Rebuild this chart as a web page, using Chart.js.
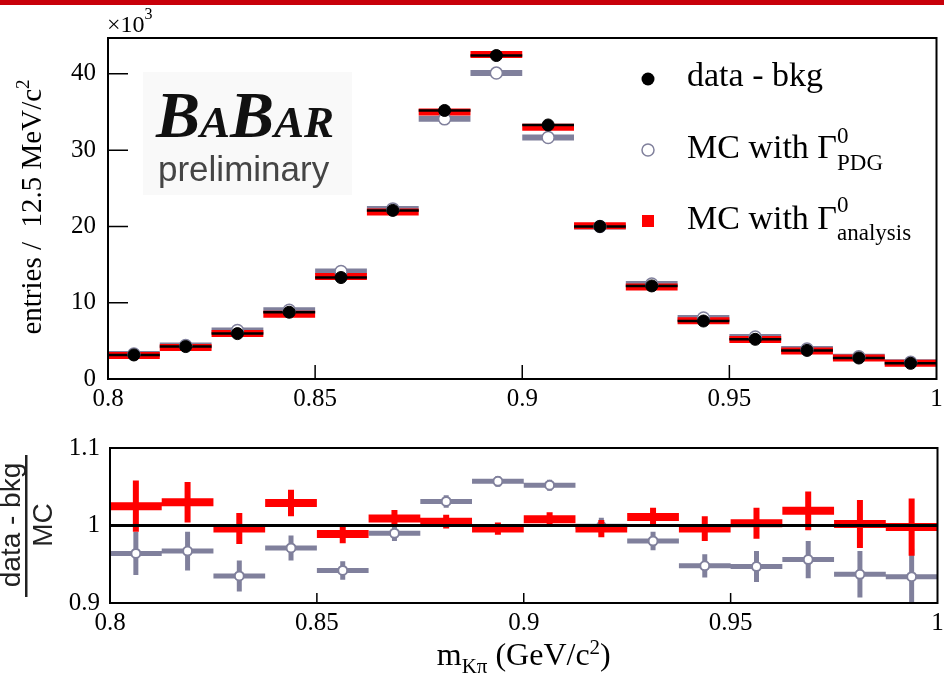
<!DOCTYPE html>
<html>
<head>
<meta charset="utf-8">
<script src="https://cdn.jsdelivr.net/npm/chart.js@4.4.1/dist/chart.umd.min.js"></script>
<style>
  body { margin: 0; background: #fff; }
  #wrap { position: relative; width: 944px; height: 682px; overflow: hidden; background: #fff; }
  #stripe { position: absolute; left: 0; top: 0; width: 944px; height: 5px; background: #c8000a; }
  canvas { position: absolute; left: 0; }
</style>
</head>
<body>
<div id="wrap">
  <canvas id="topChart" width="944" height="412" style="top:0"></canvas>
  <canvas id="ratioChart" width="944" height="270" style="top:412px"></canvas>
  <div id="stripe"></div>
</div>
<script>
// bins of m(K pi), 12.5 MeV wide
const binCenters = [0.80625, 0.81875, 0.83125, 0.84375, 0.85625, 0.86875, 0.88125, 0.89375,
                    0.90625, 0.91875, 0.93125, 0.94375, 0.95625, 0.96875, 0.98125, 0.99375];
const binWidth = 0.0125;

// entries x10^3
const dataBkg    = [3.15, 4.25, 5.95, 8.75, 13.3, 22.1, 35.2, 42.4, 33.3, 20.0, 12.2, 7.6, 5.2, 3.75, 2.75, 2.05];
const mcAnalysis = [3.07, 4.13, 5.97, 8.50, 13.45, 21.9, 35.0, 42.55, 33.0, 20.1, 12.05, 7.63, 5.18, 3.68, 2.74, 2.05];
const mcPdg      = [3.27, 4.40, 6.36, 9.01, 14.1, 22.3, 34.1, 40.1, 31.65, 20.0, 12.45, 8.0, 5.5, 3.92, 2.93, 2.2];

// (data - bkg) / MC
const ratioAnalysis = [1.025, 1.030, 0.996, 1.029, 0.989, 1.009, 1.005, 0.996, 1.008, 0.996, 1.011, 0.996, 1.003, 1.019, 1.002, 0.998];
const errAnalysis   = [0.033, 0.026, 0.020, 0.017, 0.012, 0.011, 0.009, 0.008, 0.009, 0.011, 0.012, 0.016, 0.020, 0.025, 0.031, 0.037];
const ratioPdg      = [0.964, 0.967, 0.935, 0.971, 0.942, 0.990, 1.031, 1.057, 1.052, 0.999, 0.980, 0.948, 0.947, 0.956, 0.937, 0.934];
const errPdg        = [0.028, 0.025, 0.020, 0.016, 0.012, 0.010, 0.008, 0.007, 0.007, 0.011, 0.012, 0.015, 0.020, 0.024, 0.030, 0.036];

const xTicks = [0.8, 0.85, 0.9, 0.95, 1];
const yTicksTop = [0, 10, 20, 30, 40];
const yTicksRatio = [0.9, 1, 1.1];

const RED = '#ff0000';
const GRAY = '#80809c';
const SERIF = '"Liberation Serif", "Times New Roman", serif';
const SANS = '"Liberation Sans", Arial, sans-serif';

Chart.defaults.font.family = SERIF;
Chart.defaults.color = '#000';

// horizontal bin bars
function binSegments(values) {
  const pts = [];
  binCenters.forEach((c, i) => {
    pts.push({x: c - binWidth / 2, y: values[i]}, {x: c + binWidth / 2, y: values[i]}, {x: c, y: null});
  });
  return pts;
}
// vertical error bars
function errSegments(values, errs) {
  const pts = [];
  binCenters.forEach((c, i) => {
    pts.push({x: c, y: values[i] - errs[i]}, {x: c, y: values[i] + errs[i]}, {x: c, y: null});
  });
  return pts;
}
function markers(values) {
  return binCenters.map((c, i) => ({x: c, y: values[i]}));
}

function segDataset(data, color, width, order) {
  return {data, borderColor: color, borderWidth: width, borderCapStyle: 'butt',
          pointRadius: 0, spanGaps: false, clip: 0, order};
}
function markerDataset(data, fill, stroke, radius, bw, order) {
  return {data, showLine: false, pointRadius: radius, pointBackgroundColor: fill,
          pointBorderColor: stroke, pointBorderWidth: bw, clip: 0, order};
}

// text with super/subscripts; a part with stack:true starts under the previous one
function drawRich(ctx, x, y, parts, measureOnly) {
  let cx = x, start = x;
  parts.forEach(p => {
    ctx.font = (p.style || '') + ' ' + p.size + 'px ' + (p.family || SERIF);
    const px = p.stack ? start : cx;
    if (!measureOnly) ctx.fillText(p.t, px, y + (p.dy || 0));
    const w = ctx.measureText(p.t).width;
    if (p.stack) { cx = Math.max(cx, px + w); } else { start = cx; cx += w; }
  });
  return cx - x;
}

function xScale(height, pad) {
  return {
    type: 'linear', min: 0.8, max: 1.0,
    grid: {display: false, drawTicks: false}, border: {display: false},
    afterBuildTicks: s => { s.ticks = xTicks.map(v => ({value: v})); },
    ticks: {font: {family: SERIF, size: 25}, color: '#000', padding: pad, maxRotation: 0,
            autoSkip: false, callback: v => String(v)},
    afterFit: s => { s.height = height; s.paddingLeft = 0; s.paddingRight = 0; }
  };
}
function yScale(min, max, ticks, width, pad) {
  return {
    min, max,
    grid: {display: false, drawTicks: false}, border: {display: false},
    afterBuildTicks: s => { s.ticks = ticks.map(v => ({value: v})); },
    ticks: {font: {family: SERIF, size: 25}, color: '#000', padding: pad, autoSkip: false,
            callback: v => String(v)},
    afterFit: s => { s.width = width; s.paddingTop = 0; s.paddingBottom = 0; }
  };
}

function drawFrameAndTicks(chart, xLen, yLen) {
  const {ctx, chartArea: a, scales} = chart;
  ctx.save();
  ctx.strokeStyle = '#000';
  ctx.lineWidth = 2;
  ctx.strokeRect(a.left, a.top, a.right - a.left, a.bottom - a.top);
  ctx.lineWidth = 1.5;
  ctx.beginPath();
  scales.x.ticks.forEach(t => {
    const px = scales.x.getPixelForValue(t.value);
    if (px <= a.left + 1 || px >= a.right - 1) return;
    ctx.moveTo(px, a.bottom); ctx.lineTo(px, a.bottom - xLen);
  });
  if (yLen > 0) {
    scales.y.ticks.forEach(t => {
      const py = scales.y.getPixelForValue(t.value);
      if (py >= a.bottom - 1 || py <= a.top + 1) return;
      ctx.moveTo(a.left, py); ctx.lineTo(a.left + yLen, py);
    });
  }
  ctx.stroke();
  ctx.restore();
}

const topDecor = {
  id: 'topDecor',
  beforeDatasetsDraw(chart) {
    const ctx = chart.ctx;
    ctx.save();
    // BaBar logo
    ctx.fillStyle = '#f9f9f9';
    ctx.fillRect(143, 72, 209, 123);
    ctx.fillStyle = '#111';
    ctx.textBaseline = 'alphabetic';
    drawRich(ctx, 156, 137, [
      {t: 'B', size: 66, style: 'italic bold'},
      {t: 'A', size: 45, style: 'italic bold'},
      {t: 'B', size: 66, style: 'italic bold'},
      {t: 'AR', size: 45, style: 'italic bold'}
    ]);
    ctx.fillStyle = '#454545';
    ctx.font = '35px ' + SANS;
    ctx.fillText('preliminary', 158, 181);
    ctx.restore();
  },
  afterDatasetsDraw(chart) {
    const ctx = chart.ctx;
    drawFrameAndTicks(chart, 14, 20);
    ctx.save();
    ctx.fillStyle = '#000';
    ctx.textBaseline = 'alphabetic';
    // x10^3
    drawRich(ctx, 107, 32, [{t: '\u00d710', size: 24}, {t: '3', size: 16, dy: -13}]);
    // y title
    ctx.save();
    ctx.translate(41, 207);
    ctx.rotate(-Math.PI / 2);
    const yParts = [{t: 'entries /  12.5 MeV/c', size: 29}, {t: '2', size: 19, dy: -12}];
    const w = drawRich(ctx, 0, 0, yParts, true);
    drawRich(ctx, -w / 2, 0, yParts);
    ctx.restore();
    // legend
    ctx.beginPath();
    ctx.arc(648, 79, 6.5, 0, Math.PI * 2);
    ctx.fill();
    ctx.beginPath();
    ctx.arc(648, 150, 6, 0, Math.PI * 2);
    ctx.fillStyle = '#fff';
    ctx.fill();
    ctx.strokeStyle = GRAY;
    ctx.lineWidth = 1.5;
    ctx.stroke();
    ctx.fillStyle = RED;
    ctx.fillRect(642, 215, 12, 12);
    ctx.fillStyle = '#000';
    drawRich(ctx, 687, 86, [{t: 'data - bkg', size: 34}]);
    drawRich(ctx, 687, 158, [{t: 'MC with \u0393', size: 34}, {t: '0', size: 23, dy: -15},
                             {t: 'PDG', size: 23, dy: 12, stack: true}]);
    drawRich(ctx, 687, 229, [{t: 'MC with \u0393', size: 34}, {t: '0', size: 23, dy: -17},
                             {t: 'analysis', size: 23, dy: 11, stack: true}]);
    ctx.restore();
  }
};

const ratioDecor = {
  id: 'ratioDecor',
  afterDatasetsDraw(chart) {
    const ctx = chart.ctx;
    drawFrameAndTicks(chart, 10, 0);
    ctx.save();
    ctx.fillStyle = '#000';
    ctx.textBaseline = 'alphabetic';
    // x title
    const xParts = [{t: 'm', size: 32}, {t: 'K\u03c0', size: 21, dy: 8},
                    {t: ' (GeV/c', size: 32}, {t: '2', size: 21, dy: -11}, {t: ')', size: 32}];
    const cx = (chart.chartArea.left + chart.chartArea.right) / 2;
    const w = drawRich(ctx, 0, 0, xParts, true);
    drawRich(ctx, cx - w / 2, 253, xParts);
    // y title as a fraction
    ctx.fillStyle = '#222';
    ctx.fillRect(25, 43, 2.5, 142);
    ctx.save();
    ctx.translate(0, 113);
    ctx.rotate(-Math.PI / 2);
    ctx.font = '28px ' + SANS;
    ctx.textAlign = 'center';
    ctx.fillText('data - bkg', 0, 20);
    ctx.fillText('MC', 0, 52);
    ctx.restore();
    ctx.restore();
  }
};

new Chart(document.getElementById('topChart'), {
  type: 'line',
  data: {
    datasets: [
      segDataset(binSegments(mcPdg), GRAY, 6, 5),
      segDataset(binSegments(mcAnalysis), RED, 7, 4),
      segDataset(binSegments(dataBkg), '#000', 2.5, 3),
      markerDataset(markers(mcPdg), '#fff', GRAY, 6, 1.5, 2),
      markerDataset(markers(dataBkg), '#000', '#000', 6, 1, 1)
    ]
  },
  options: {
    responsive: false,
    animation: false,
    devicePixelRatio: 1,
    events: [],
    layout: {padding: {left: 0, right: 4, top: 38, bottom: 0}},
    plugins: {legend: {display: false}, tooltip: {enabled: false}},
    scales: {
      x: xScale(33, 5),
      y: yScale(0, 44.7, yTicksTop, 108, 12)
    }
  },
  plugins: [topDecor]
});

new Chart(document.getElementById('ratioChart'), {
  type: 'line',
  data: {
    datasets: [
      segDataset(binSegments(ratioPdg), GRAY, 5, 6),
      segDataset(errSegments(ratioPdg, errPdg), GRAY, 5, 5),
      markerDataset(markers(ratioPdg), '#fff', GRAY, 4.5, 2, 4),
      segDataset(binSegments(ratioAnalysis), RED, 8, 3),
      segDataset(errSegments(ratioAnalysis, errAnalysis), RED, 6, 2),
      segDataset([{x: 0.8, y: 1}, {x: 1.0, y: 1}], '#000', 3, 1)
    ]
  },
  options: {
    responsive: false,
    animation: false,
    devicePixelRatio: 1,
    events: [],
    layout: {padding: {left: 0, right: 2, top: 36, bottom: 0}},
    plugins: {legend: {display: false}, tooltip: {enabled: false}},
    scales: {
      x: xScale(79, 5),
      y: yScale(0.9, 1.1, yTicksRatio, 110, 10)
    }
  },
  plugins: [ratioDecor]
});
</script>
</body>
</html>
